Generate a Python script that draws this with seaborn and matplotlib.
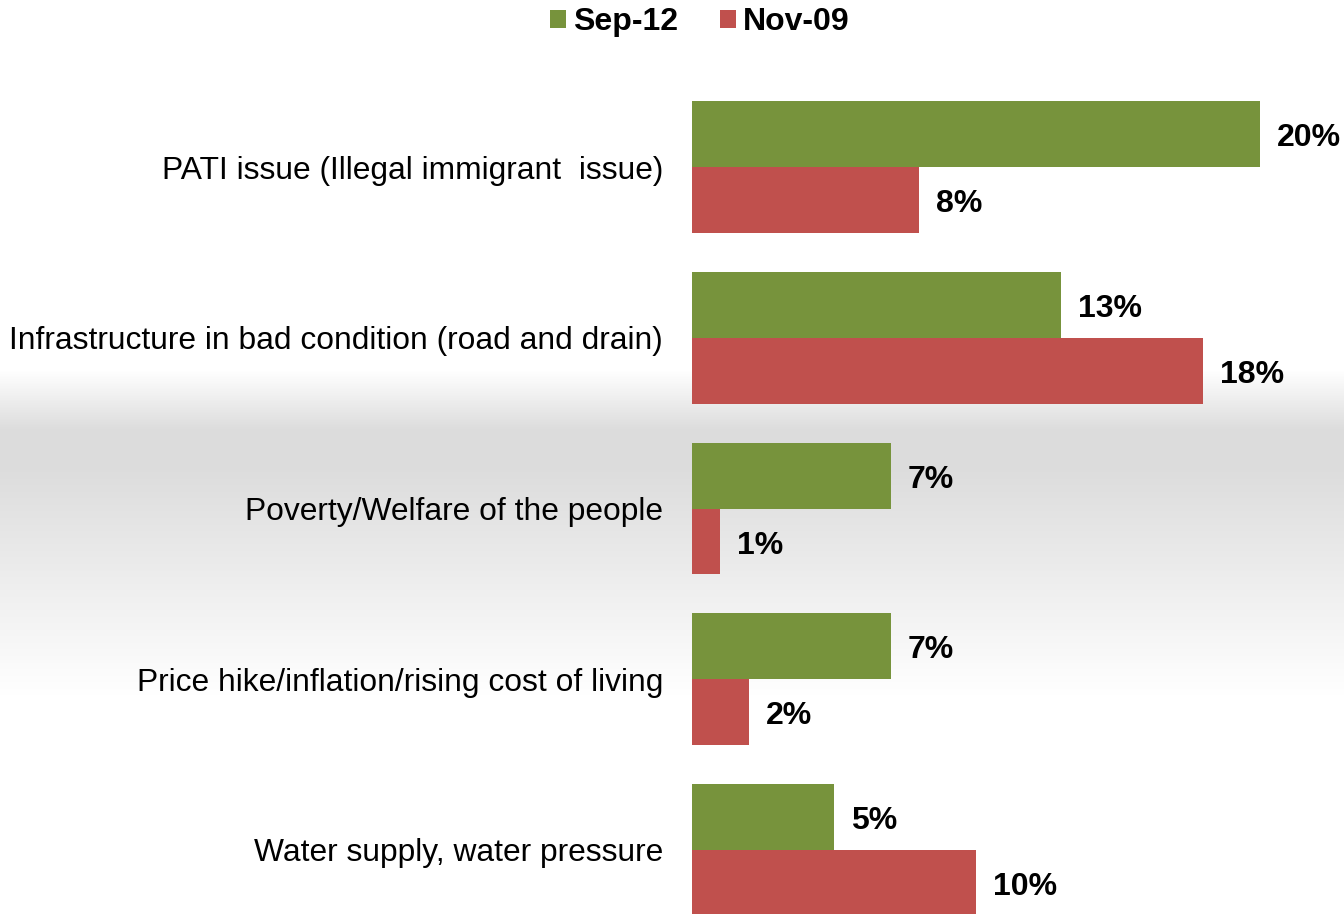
import numpy as np
import pandas as pd
import matplotlib
matplotlib.use("Agg")
import matplotlib.pyplot as plt
import seaborn as sns
from matplotlib.patches import Patch

categories = [
    "PATI issue (Illegal immigrant  issue)",
    "Infrastructure in bad condition (road and drain)",
    "Poverty/Welfare of the people",
    "Price hike/inflation/rising cost of living",
    "Water supply, water pressure",
]
series_names = ["Sep-12", "Nov-09"]
sep12 = [20, 13, 7, 7, 5]
nov09 = [8, 18, 1, 2, 10]
colors = ["#77933C", "#C0504D"]

df = pd.DataFrame({
    "category": categories * 2,
    "series": [series_names[0]] * len(categories) + [series_names[1]] * len(categories),
    "value": sep12 + nov09,
})

sns.set_theme(style="white")
plt.rcParams["font.family"] = ["Liberation Sans", "DejaVu Sans"]
plt.rcParams["text.color"] = "black"

W, H = 1344, 914
fig = plt.figure(figsize=(W / 100, H / 100), dpi=100)

# background gradient
bg = fig.add_axes([0, 0, 1, 1], zorder=-10)
ys = np.arange(H)
g = np.interp(ys, [0, 370, 430, 465, 695, H], [255, 255, 220, 220, 255, 255]) / 255.0
img = np.repeat(g[:, None], 4, axis=1)
bg.imshow(np.dstack([img, img, img]), aspect="auto", extent=[0, 1, 0, 1], origin="upper")
bg.set_axis_off()

left_px, top_px = 692, 60
ax = fig.add_axes([left_px / W, 0, 1 - left_px / W, 1 - top_px / H])
ax.set_facecolor("none")

sns.barplot(data=df, x="value", y="category", hue="series", order=categories,
            hue_order=series_names, palette=colors, width=0.773, orient="h",
            saturation=1, linewidth=0, ax=ax, legend=False)

px_per_unit = 28.4
ax.set_xlim(0, (W - left_px) / px_per_unit)
cat_px = 170.75
y0 = 167
ax.set_ylim((H - y0) / cat_px, (top_px - y0) / cat_px)

for cont in ax.containers:
    texts = ax.bar_label(cont, labels=[f"{v:.0f}%" for v in cont.datavalues], padding=12.2,
                         fontsize=23, fontweight="bold", color="black")
    for t in texts:
        t.xyann = (12.2, -3)

ax.set_xlabel("")
ax.set_ylabel("")
ax.set_xticks([])
ax.tick_params(axis="y", length=0, pad=20.9, labelsize=22.9, labelcolor="black")
for s in ax.spines.values():
    s.set_visible(False)

handles = [Patch(facecolor=c, edgecolor="none", label=n) for c, n in zip(colors, series_names)]
leg = fig.legend(handles=handles, loc="center", bbox_to_anchor=(700 / W, 1 - 22 / H), ncol=2,
                 frameon=False, prop={"weight": "bold", "size": 23}, handlelength=0.5,
                 handleheight=0.5, handletextpad=0.22, columnspacing=1.3)
for t in leg.get_texts():
    t.set_color("black")

fig.savefig("out.png", dpi=100)
